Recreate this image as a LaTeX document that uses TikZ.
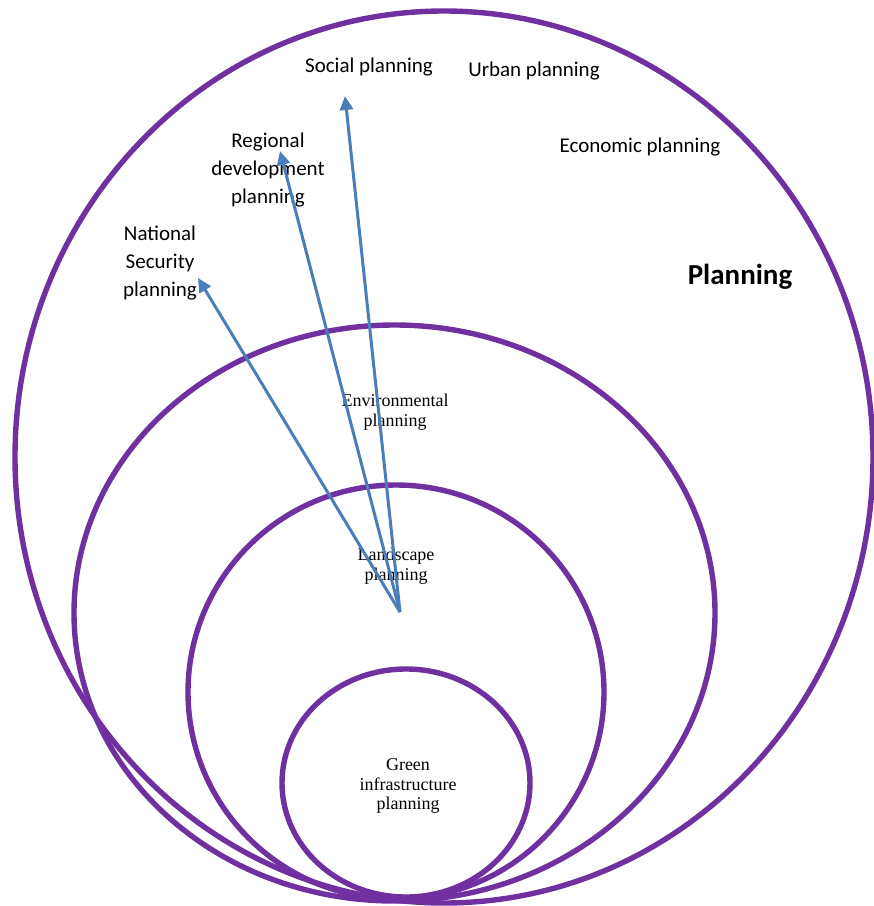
\documentclass[tikz,border=0pt]{standalone}
\usepackage{fontspec}
\setmainfont{Carlito}
\newfontfamily\serifrm{Liberation Serif}
\usepackage{xcolor}
\usetikzlibrary{arrows.meta}
\definecolor{ringpurple}{HTML}{7030A0}
\definecolor{arrowblue}{HTML}{4A7EBB}
\tikzset{
  ring/.style={draw=ringpurple,line width=5.4pt},
  outlabel/.style={font=\fontsize{21}{28}\selectfont,align=center,inner sep=0pt},
  inlabel/.style={font=\serifrm\fontsize{18}{19.5}\selectfont,align=center,inner sep=0pt},
  link/.style={draw=arrowblue,line width=3pt,-{Triangle[length=14pt,width=13pt]}}
}
\begin{document}
\begin{tikzpicture}[x=1pt,y=-1pt]
			\useasboundingbox(0,0)rectangle(874,906);
			\draw[ring](444,457)ellipse[x radius=429,y radius=446];
			\draw[ring](394.5,613)ellipse[x radius=320.5,y radius=288];
			\draw[ring](396,692)ellipse[x radius=208,y radius=207];
			\draw[ring](406,783)ellipse[x radius=124,y radius=114];
			\node[outlabel](social)at(369,67){Social planning};
			\node[outlabel](urban)at(534,71){Urban planning};
			\node[outlabel](economic)at(640,147){Economic planning};
			\node[outlabel,font=\bfseries\fontsize{29}{30}\selectfont](planning)at(740,277){Planning};
			\node[outlabel](regional)at(268,170){Regional\\development\\planning};
			\node[outlabel](national)at(160,263){National\\Security\\planning};
			\node[inlabel](environ)at(395,412){Environmental\\planning};
			\node[inlabel](landscape)at(396,566){Landscape\\planning};
			\node[inlabel](green)at(408,786){Green\\infrastructure\\planning};
			\coordinate(src)at(400,612);
			\coordinate(socialtip)at(345,96);
			\coordinate(regionaltip)at(280,151);
			\coordinate(nationaltip)at(198,278);
			\draw[link](src)--(socialtip);
			\draw[link](src)--(regionaltip);
			\draw[link](src)--(nationaltip);
		\end{tikzpicture}
\end{document}
